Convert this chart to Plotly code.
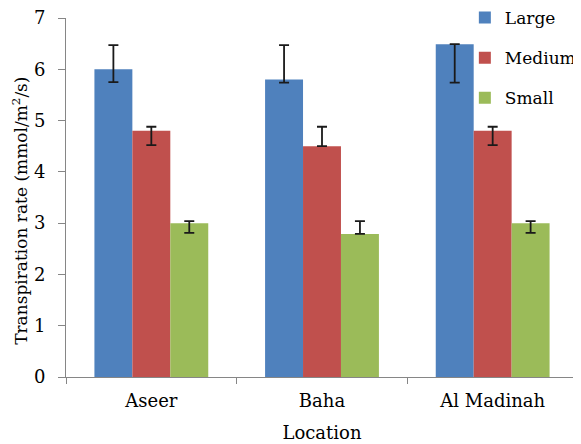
import plotly.graph_objects as go

locations = ["Aseer", "Baha", "Al Madinah"]
series_names = ["Large", "Medium", "Small"]
large = [6.0, 5.8, 6.49]
medium = [4.8, 4.5, 4.8]
small = [3.0, 2.79, 3.0]
large_err_hi = [6.47, 6.47, 6.47]
large_err_lo = [5.75, 5.74, 5.74]
medium_err_hi = [4.88, 4.88, 4.88]
medium_err_lo = [4.52, 4.52, 4.52]
small_err_hi = [3.04, 3.04, 3.04]
small_err_lo = [2.81, 2.81, 2.81]
colors = ["#4F81BD", "#C0504D", "#9BBB59"]
y_title = "Transpiration rate (mmol/m<sup>2</sup>/s)"
x_title = "Location"

values = [large, medium, small]
his = [large_err_hi, medium_err_hi, small_err_hi]
los = [large_err_lo, medium_err_lo, small_err_lo]

FONT = "DejaVu Serif"

fig = go.Figure()
for name, v, hi, lo, c in zip(series_names, values, his, los, colors):
    plus = [max(h - x, 0) for h, x in zip(hi, v)]
    minus = [max(x - l, 0) for l, x in zip(lo, v)]
    fig.add_trace(go.Bar(
        x=locations, y=v, name=name, legendgroup=name,
        marker=dict(color=c, line=dict(width=0)),
        error_y=dict(type="data", symmetric=False, array=plus, arrayminus=minus,
                     color="#1a1a1a", thickness=1.8, width=5),
    ))

# page body has an 8px margin: figure is offset by 8px right and down
fig.update_layout(
    width=573, height=436,
    margin=dict(l=58, r=3, t=10, b=67, autoexpand=False),
    paper_bgcolor="white", plot_bgcolor="white",
    barmode="group", bargap=0.333, bargroupgap=0,
    font=dict(family=FONT, size=18, color="#000000"),
    showlegend=True,
    legend=dict(x=0.779, xanchor="left", y=1.05, yanchor="top",
                traceorder="grouped", tracegroupgap=15,
                font=dict(family=FONT, size=17), bgcolor="rgba(0,0,0,0)",
                itemwidth=30),
    xaxis=dict(
        type="category", showline=True, linecolor="#868686", linewidth=1,
        ticks="outside", ticklen=6, tickcolor="#868686", tickson="boundaries",
        ticklabelstandoff=7,
        showgrid=False, zeroline=False, automargin=False,
        title=dict(text=x_title, standoff=16, font=dict(family=FONT, size=18)),
        tickfont=dict(family=FONT, size=18),
    ),
    yaxis=dict(
        range=[0, 7], dtick=1, showline=True, linecolor="#868686", linewidth=1,
        ticks="outside", ticklen=7, tickcolor="#868686", ticklabelstandoff=9,
        ticklabeloverflow="allow",
        showgrid=False, zeroline=False, automargin=False,
        tickfont=dict(family=FONT, size=18),
    ),
    annotations=[dict(
        text=y_title, textangle=-90, showarrow=False,
        xref="paper", yref="paper", x=-0.089, y=0.464,
        xanchor="center", yanchor="middle", borderpad=0,
        font=dict(family=FONT, size=17, color="#000000"),
    )],
)

fig.write_html("out.html")
